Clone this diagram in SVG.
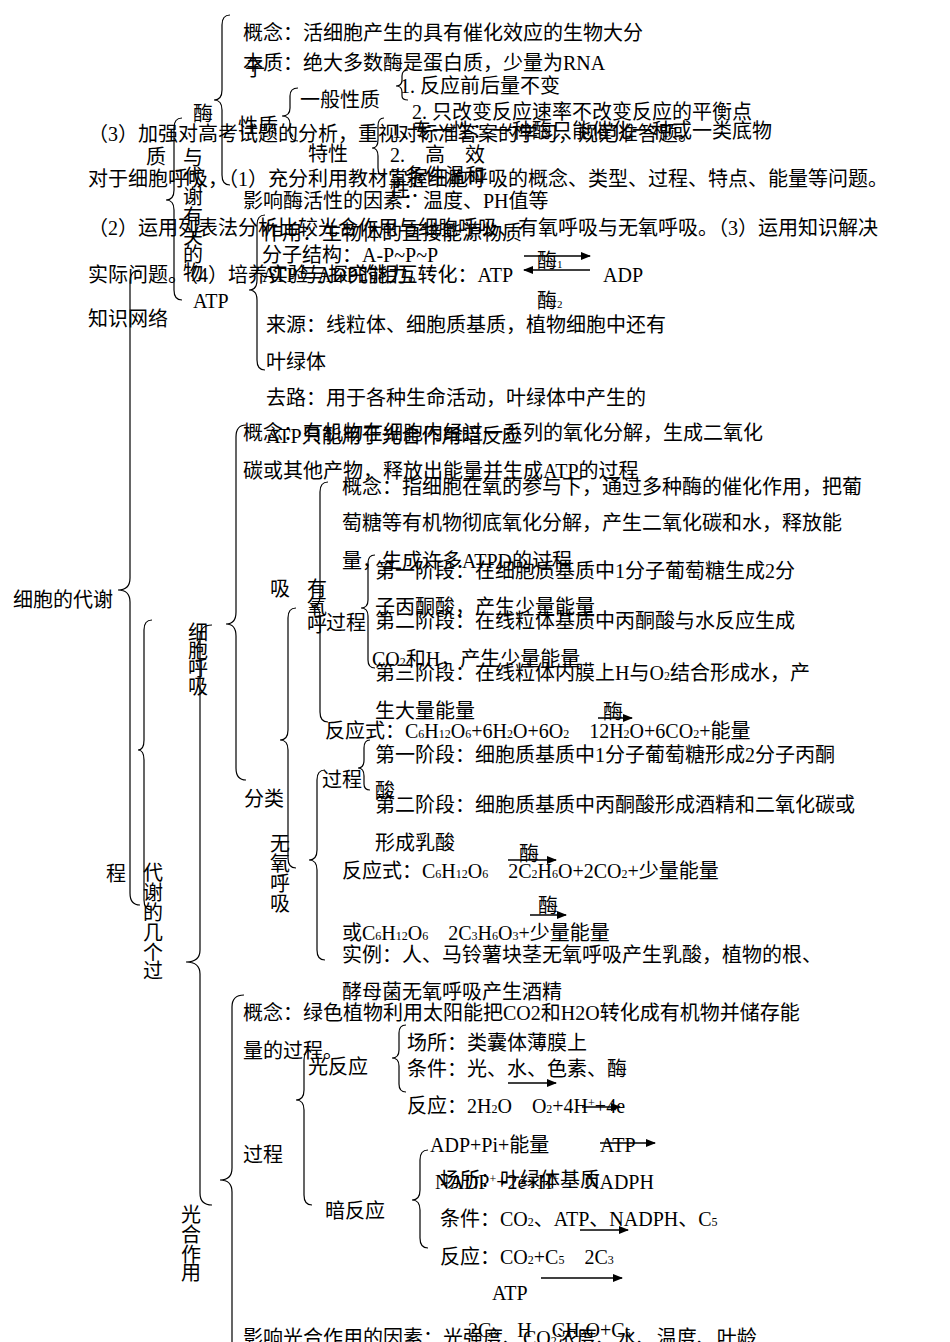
<svg xmlns="http://www.w3.org/2000/svg" width="950" height="1342" viewBox="0 0 950 1342">
<defs>
<style>
text{font-family:"Liberation Serif","Noto Sans CJK SC",serif;font-size:20px;fill:#000}
.b{fill:none;stroke:#000;stroke-width:1.2}
.a{stroke:#000;stroke-width:1.5;fill:none}
</style>
<marker id="ar" markerWidth="10" markerHeight="8" refX="9" refY="4" orient="auto" markerUnits="userSpaceOnUse"><path d="M0,0L10,4L0,8z" fill="#000"/></marker>
</defs>
<rect width="950" height="1342" fill="#fff"/>
<g id="braces">
<path class="b" d="M140,270q-10,0 -10,12V578q0,12 -12,12q12,0 12,12V893q0,12 10,12"/>
<path class="b" d="M230,15q-8,0 -8,10V90q0,10 -8,10q8,0 8,10V175q0,10 8,10"/>
<path class="b" d="M182,118q-8,0 -8,10V190q0,10 -8,10q8,0 8,10V290q0,10 8,10"/>
<path class="b" d="M298,88q-8,0 -8,8V108q0,8 -8,8q8,0 8,8V133q0,8 8,8"/>
<path class="b" d="M408,70q-6,0 -6,6V80q0,6 -6,6q6,0 6,6V96q0,4 6,4"/>
<path class="b" d="M384,118q-6,0 -6,8V140q0,8 -6,8q6,0 6,8V168q0,8 6,8"/>
<path class="b" d="M265,215q-8,0 -8,10V280q0,10 -8,10q8,0 8,10V360q0,10 8,10"/>
<path class="b" d="M246,425q-10,0 -10,12V612q0,12 -10,12q10,0 10,12V768q0,12 10,12"/>
<path class="b" d="M328,482q-8,0 -8,10V596q0,10 -8,10q8,0 8,10V712q0,10 8,10"/>
<path class="b" d="M375,555q-7,0 -7,8V600q0,8 -7,8q7,0 7,8V660q0,8 7,8"/>
<path class="b" d="M296,608q-8,0 -8,10V730q0,10 -8,10q8,0 8,10V858q0,10 8,10"/>
<path class="b" d="M325,770q-8,0 -8,10V850q0,10 -8,10q8,0 8,10V950q0,10 8,10"/>
<path class="b" d="M370,740q-6,0 -6,8V760q0,8 -6,8q6,0 6,8V784q0,6 6,6"/>
<path class="b" d="M212,625q-12,0 -12,12V950q0,12 -14,12q14,0 14,12V1193q0,12 12,12"/>
<path class="b" d="M152,620q-8,0 -8,10V740q0,10 -6,10q6,0 6,10V900q0,10 8,10"/>
<path class="b" d="M244,995q-12,0 -12,12V1168q0,12 -12,12q12,0 12,12V1342"/>
<path class="b" d="M312,1050q-8,0 -8,10V1090q0,10 -8,10q8,0 8,10V1195q0,10 8,10"/>
<path class="b" d="M406,1025q-7,0 -7,8V1050q0,8 -7,8q7,0 7,8V1084q0,8 7,8"/>
<path class="b" d="M428,1150q-8,0 -8,10V1190q0,10 -8,10q8,0 8,10V1238q0,10 8,10"/>
</g>
<g id="connectors">
<line class="a" x1="524" y1="256" x2="590" y2="256" marker-end="url(#ar)"/>
<line class="a" x1="590" y1="270" x2="524" y2="270" marker-end="url(#ar)"/>
<line class="a" x1="598" y1="718" x2="632" y2="718" marker-end="url(#ar)"/>
<line class="a" x1="508" y1="860" x2="556" y2="860" marker-end="url(#ar)"/>
<line class="a" x1="530" y1="915" x2="566" y2="915" marker-end="url(#ar)"/>
<line class="a" x1="508" y1="1083" x2="556" y2="1083" marker-end="url(#ar)"/>
<line class="a" x1="582" y1="1107" x2="620" y2="1107" marker-end="url(#ar)"/>
<line class="a" x1="600" y1="1143" x2="655" y2="1143" marker-end="url(#ar)"/>
<line class="a" x1="580" y1="1230" x2="628" y2="1230" marker-end="url(#ar)"/>
<line class="a" x1="541" y1="1278" x2="622" y2="1278" marker-end="url(#ar)"/>
</g>
<g id="texts">
<text x="13" y="607">细胞的代谢</text>
<text x="243" y="40">概念：活细胞产生的具有催化效应的生物大分</text>
<text x="243" y="70">本质：绝大多数酶是蛋白质，少量为RNA</text>
<text x="245" y="76">子</text>
<text x="400" y="93">1. 反应前后量不变</text>
<text x="300" y="107">一般性质</text>
<text x="412" y="119">2. 只改变反应速率不改变反应的平衡点</text>
<text x="193" y="121">酶</text>
<text x="238" y="133">性质</text>
<text x="392" y="138">1. 专一性：一种酶只能催化一种或一类底物</text>
<text x="88" y="141">（3）加强对高考试题的分析，重视对标准答案的学习，规范准答题。</text>
<text x="146" y="164">质</text>
<text x="183" y="165">与</text>
<text x="308" y="161">特性</text>
<text x="390" y="162">2.　高　效</text>
<text x="390" y="183">3.条件温和</text>
<text x="88" y="186">对于细胞呼吸，（1）充分利用教材掌握细胞呼吸的概念、类型、过程、特点、能量等问题。</text>
<text x="183" y="184">代</text>
<text x="390" y="197">性：</text>
<text x="183" y="204">谢</text>
<text x="243" y="208">影响酶活性的因素：温度、PH值等</text>
<text x="183" y="224">有</text>
<text x="88" y="235">（2）运用列表法分析比较光合作用与细胞呼吸、有氧呼吸与无氧呼吸。（3）运用知识解决</text>
<text x="262" y="240">作用：生物体的直接能源物质</text>
<text x="183" y="244">关</text>
<text x="183" y="262">的</text>
<text x="262" y="262">分子结构：A-P~P~P</text>
<text x="537" y="268">酶<tspan font-size="11">1</tspan></text>
<text x="183" y="280">物</text>
<text x="88" y="282">实际问题。（4）培养实验与探究能力。</text>
<text x="262" y="282">ATP与ADP的相互转化：ATP</text>
<text x="603" y="282">ADP</text>
<text x="193" y="308">ATP</text>
<text x="537" y="308">酶<tspan font-size="11">2</tspan></text>
<text x="88" y="326">知识网络</text>
<text x="266" y="332">来源：线粒体、细胞质基质，植物细胞中还有</text>
<text x="266" y="369">叶绿体</text>
<text x="266" y="405">去路：用于各种生命活动，叶绿体中产生的</text>
<text x="243" y="440">概念：有机物在细胞内经过一系列的氧化分解，生成二氧化</text>
<text x="266" y="443">ATP只能用于光合作用暗反应</text>
<text x="243" y="478">碳或其他产物，释放出能量并生成ATP的过程</text>
<text x="342" y="494">概念：指细胞在氧的参与下，通过多种酶的催化作用，把葡</text>
<text x="342" y="530">萄糖等有机物彻底氧化分解，产生二氧化碳和水，释放能</text>
<text x="342" y="568">量，生成许多ATPD的过程</text>
<text x="375" y="578">第一阶段：在细胞质基质中1分子葡萄糖生成2分</text>
<text x="270" y="596">吸</text>
<text x="307" y="596">有</text>
<text x="307" y="614">氧</text>
<text x="307" y="632">呼</text>
<text x="375" y="614">子丙酮酸，产生少量能量</text>
<text x="326" y="630">过程</text>
<text x="375" y="628">第二阶段：在线粒体基质中丙酮酸与水反应生成</text>
<text x="188" y="640">细</text>
<text x="188" y="658">胞</text>
<text x="188" y="676">呼</text>
<text x="188" y="694">吸</text>
<text x="372" y="666">CO<tspan font-size="12">2</tspan>和H，产生少量能量</text>
<text x="375" y="680">第三阶段：在线粒体内膜上H与O<tspan font-size="12">2</tspan>结合形成水，产</text>
<text x="375" y="718">生大量能量</text>
<text x="603" y="719">酶</text>
<text x="325" y="738">反应式：C<tspan font-size="12">6</tspan>H<tspan font-size="12">12</tspan>O<tspan font-size="12">6</tspan>+6H<tspan font-size="12">2</tspan>O+6O<tspan font-size="12">2</tspan>　12H<tspan font-size="12">2</tspan>O+6CO<tspan font-size="12">2</tspan>+能量</text>
<text x="375" y="762">第一阶段：细胞质基质中1分子葡萄糖形成2分子丙酮</text>
<text x="322" y="787">过程</text>
<text x="375" y="798">酸</text>
<text x="244" y="806">分类</text>
<text x="375" y="812">第二阶段：细胞质基质中丙酮酸形成酒精和二氧化碳或</text>
<text x="375" y="850">形成乳酸</text>
<text x="270" y="851">无</text>
<text x="270" y="871">氧</text>
<text x="270" y="891">呼</text>
<text x="270" y="911">吸</text>
<text x="519" y="861">酶</text>
<text x="342" y="878">反应式：C<tspan font-size="12">6</tspan>H<tspan font-size="12">12</tspan>O<tspan font-size="12">6</tspan>　2C<tspan font-size="12">2</tspan>H<tspan font-size="12">6</tspan>O+2CO<tspan font-size="12">2</tspan>+少量能量</text>
<text x="106" y="881">程</text>
<text x="143" y="880">代</text>
<text x="143" y="900">谢</text>
<text x="143" y="920">的</text>
<text x="143" y="940">几</text>
<text x="143" y="960">个</text>
<text x="143" y="978">过</text>
<text x="538" y="913">酶</text>
<text x="342" y="940">或C<tspan font-size="12">6</tspan>H<tspan font-size="12">12</tspan>O<tspan font-size="12">6</tspan>　2C<tspan font-size="12">3</tspan>H<tspan font-size="12">6</tspan>O<tspan font-size="12">3</tspan>+少量能量</text>
<text x="342" y="962">实例：人、马铃薯块茎无氧呼吸产生乳酸，植物的根、</text>
<text x="342" y="999">酵母菌无氧呼吸产生酒精</text>
<text x="243" y="1020">概念：绿色植物利用太阳能把CO2和H2O转化成有机物并储存能</text>
<text x="407" y="1050">场所：类囊体薄膜上</text>
<text x="243" y="1058">量的过程。</text>
<text x="308" y="1074">光反应</text>
<text x="407" y="1076">条件：光、水、色素、酶</text>
<text x="407" y="1113">反应：2H<tspan font-size="12">2</tspan>O　O<tspan font-size="12">2</tspan>+4H<tspan font-size="12" dy="-6">+</tspan><tspan dy="6">+4e</tspan></text>
<text x="430" y="1152">ADP+Pi+能量</text>
<text x="600" y="1152">ATP</text>
<text x="243" y="1162">过程</text>
<text x="440" y="1187">场所：叶绿体基质</text>
<text x="435" y="1189">NADP<tspan font-size="12" dy="-6">+</tspan><tspan dy="6">+2e+H</tspan><tspan font-size="12" dy="-6">+</tspan></text>
<text x="585" y="1189">NADPH</text>
<text x="325" y="1218">暗反应</text>
<text x="181" y="1222">光</text>
<text x="181" y="1242">合</text>
<text x="181" y="1262">作</text>
<text x="181" y="1280">用</text>
<text x="440" y="1226">条件：CO<tspan font-size="12">2</tspan>、ATP、NADPH、C<tspan font-size="12">5</tspan></text>
<text x="440" y="1264">反应：CO<tspan font-size="12">2</tspan>+C<tspan font-size="12">5</tspan>　2C<tspan font-size="12">3</tspan></text>
<text x="492" y="1300">ATP</text>
<text x="468" y="1337">2C<tspan font-size="12">3</tspan>　H　CH<tspan font-size="12">2</tspan>O+C<tspan font-size="12">5</tspan></text>
<text x="243" y="1345">影响光合作用的因素：光强度、CO<tspan font-size="12">2</tspan>浓度、水、温度、叶龄</text>
</g>
</svg>
